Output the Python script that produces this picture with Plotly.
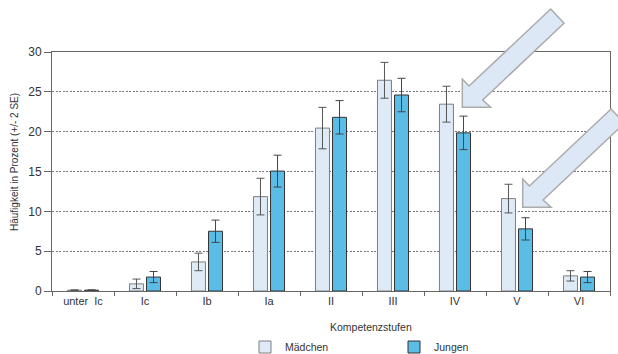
import plotly.graph_objects as go

# Kompetenzstufen and shares (in %) with +/- 2 SE
stufen = ["unter\u00a0\u00a0Ic", "Ic", "Ib", "Ia", "II", "III", "IV", "V", "VI"]
maedchen = [0.1, 0.9, 3.65, 11.85, 20.45, 26.45, 23.45, 11.6, 1.9]
maedchen_se2 = [0.05, 0.6, 1.1, 2.3, 2.6, 2.25, 2.25, 1.8, 0.65]
jungen = [0.1, 1.75, 7.5, 15.05, 21.8, 24.6, 19.85, 7.8, 1.75]
jungen_se2 = [0.05, 0.7, 1.4, 2.0, 2.1, 2.1, 2.1, 1.4, 0.7]

W, H = 618, 354
L, R, T, B = 52, 8, 52, 63
PW, PH = W - L - R, H - T - B

FONT = "Liberation Sans, Arial, sans-serif"


def px_to_paper(x, y):
    return (x - L) / PW, (H - B - y) / PH


def arrow_path(points):
    parts = []
    for i, (x, y) in enumerate(points):
        xp, yp = px_to_paper(x, y)
        parts.append(("M" if i == 0 else "L") + f"{xp:.5f},{yp:.5f}")
    return " ".join(parts) + " Z"


# block arrows pointing down-left
arrow1 = [(550.7, 9), (564, 23.3), (482.7, 100), (490.7, 107.3),
          (462.3, 107.3), (462.3, 79), (469, 86)]
arrow2 = [(x + 60.4, y + 100) for x, y in arrow1]

fig = go.Figure()
fig.add_trace(go.Bar(
    x=stufen, y=maedchen, name="Mädchen",
    marker=dict(color="#deebf7", line=dict(color="#7f7f7f", width=1)),
    error_y=dict(type="data", array=maedchen_se2, color="#555555",
                 thickness=1, width=4),
))
fig.add_trace(go.Bar(
    x=stufen, y=jungen, name="Jungen",
    marker=dict(color="#5bbce6", line=dict(color="#333333", width=1)),
    error_y=dict(type="data", array=jungen_se2, color="#444444",
                 thickness=1, width=4),
))

for pts in (arrow1, arrow2):
    fig.add_shape(type="path", path=arrow_path(pts), xref="paper", yref="paper",
                  fillcolor="#dce8f5", line=dict(color="#ababab", width=1.5),
                  layer="above")

xt, yt = px_to_paper(371, 327)
xy, yy = px_to_paper(14, 162)
fig.add_annotation(text="Kompetenzstufen", x=xt, y=yt, xref="paper", yref="paper",
                   xanchor="center", yanchor="middle", showarrow=False,
                   font=dict(size=10.5, color="#333333"))
fig.add_annotation(text="Häufigkeit in Prozent (+/- 2 SE)", x=xy, y=yy,
                   xref="paper", yref="paper", xanchor="center", yanchor="middle",
                   textangle=-90, showarrow=False,
                   font=dict(size=10, color="#333333"))

lx, ly = px_to_paper(245, 347)
fig.update_layout(
    width=W, height=H,
    margin=dict(l=L, r=R, t=T, b=B, autoexpand=False),
    paper_bgcolor="white", plot_bgcolor="white",
    font=dict(family=FONT, color="#333333", size=11),
    barmode="group", bargap=0.45, bargroupgap=0.18,
    showlegend=True,
    legend=dict(orientation="h", x=lx, y=ly, xanchor="left", yanchor="middle",
                entrywidth=104, entrywidthmode="pixels",
                font=dict(size=10.5, color="#333333"), bgcolor="rgba(0,0,0,0)"),
    xaxis=dict(showline=True, linecolor="#666666", linewidth=1, mirror=True,
               ticks="outside", tickson="boundaries", ticklen=4,
               tickcolor="#666666", showgrid=False,
               tickfont=dict(size=11, color="#333333")),
    yaxis=dict(range=[0, 30], dtick=5, showline=True, linecolor="#666666",
               linewidth=1, mirror=True, ticks="outside", ticklen=7,
               tickcolor="#666666", showgrid=True, gridcolor="#777777",
               griddash="2px,1.5px", gridwidth=1, zeroline=False,
               tickfont=dict(size=12, color="#333333")),
)

fig.write_html("out.html")
